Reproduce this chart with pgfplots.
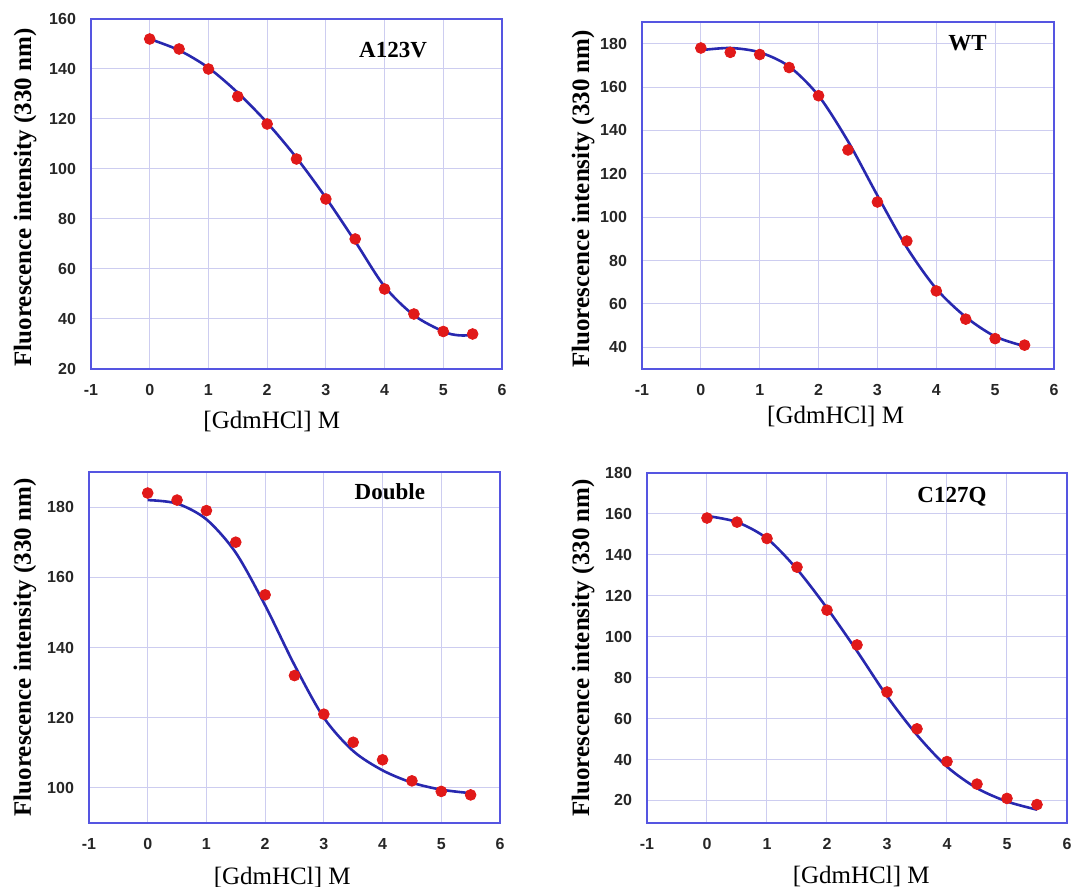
\documentclass[border=0pt]{standalone}
\usepackage{fontspec}
\setmainfont{Liberation Serif}
\newfontfamily\ticksans{Liberation Sans}
\usepackage{pgfplots}
\pgfplotsset{compat=1.18}

\definecolor{boxblue}{RGB}{85,85,225}
\definecolor{gridblue}{RGB}{205,205,240}
\definecolor{fitblue}{RGB}{40,40,175}
\definecolor{dotred}{RGB}{225,25,25}

\pgfplotsset{
  panel/.style={
    scale only axis, anchor=north west,
    xmin=-1, xmax=6, xtick={-1,0,...,6},
    grid=major, major grid style={gridblue, line width=0.5pt},
    axis line style={boxblue, line width=1.4pt},
    major tick length=0pt,
    tick label style={font=\ticksans\bfseries\fontsize{8}{9}\selectfont, text=black!85},
    /pgf/number format/assume math mode=true,
    xticklabel style={yshift=-4pt},
    yticklabel style={xshift=-4pt},
    ylabel={\bfseries Fluorescence intensity (330 nm)},
    xlabel={[GdmHCl] M},
    label style={font=\fontsize{12.5}{14}\selectfont},
  },
  fit/.style={fitblue, line width=1.3pt, smooth, no marks},
  pts/.style={only marks, mark=*, mark size=2.7pt, dotred, mark options={draw=dotred, fill=dotred}},
}
\tikzset{tag/.style={font=\bfseries\fontsize{11.5}{13}\selectfont}}

\begin{document}
\begin{tikzpicture}
\path[use as bounding box] (0,0) rectangle (536.5pt,-443.5pt);

% A123V
\begin{axis}[panel, at={(45.5pt,-9.5pt)}, width=205.5pt, height=175pt,
  ymin=20, ymax=160, ytick={20,40,...,160},
  xlabel style={at={(axis description cs:0.44,-0.15)}, anchor=center},
  ylabel style={at={(axis description cs:-0.16,0.49)}, anchor=center}]
\addplot[fit] coordinates {(0,152) (0.5,147.5) (1,140.5) (1.5,130.5) (2,118.5) (2.5,104.5) (3,88.5) (3.5,71) (4,53) (4.5,41.5) (5,35) (5.25,33.5) (5.5,33.5)};
\addplot[pts] coordinates {(0,152) (0.5,148) (1,140) (1.5,129) (2,118) (2.5,104) (3,88) (3.5,72) (4,52) (4.5,42) (5,35) (5.5,34)};
\node[tag] at (axis description cs:0.735,0.911) {A123V};
\end{axis}

% WT
\begin{axis}[panel, at={(321pt,-11pt)}, width=206pt, height=173.5pt,
  ymin=30, ymax=190, ytick={40,60,...,180},
  xlabel style={at={(axis description cs:0.47,-0.138)}, anchor=center},
  ylabel style={at={(axis description cs:-0.143,0.49)}, anchor=center}]
\addplot[fit] coordinates {(0,177) (0.5,178) (1,176) (1.5,169.5) (2,156) (2.5,135) (3,110) (3.5,86) (4,67) (4.5,54) (5,45) (5.5,40.5)};
\addplot[pts] coordinates {(0,178) (0.5,176) (1,175) (1.5,169) (2,156) (2.5,131) (3,107) (3.5,89) (4,66) (4.5,53) (5,44) (5.5,41)};
\node[tag] at (axis description cs:0.79,0.94) {WT};
\end{axis}

% Double
\begin{axis}[panel, at={(44.5pt,-236pt)}, width=205.5pt, height=175.5pt,
  ymin=90, ymax=190, ytick={100,120,...,180},
  xlabel style={at={(axis description cs:0.47,-0.154)}, anchor=center},
  ylabel style={at={(axis description cs:-0.156,0.5)}, anchor=center}]
\addplot[fit] coordinates {(0,182) (0.5,181) (1,176.5) (1.5,167) (2,152) (2.5,135) (3,120) (3.5,110.5) (4,105) (4.5,101.5) (5,99.5) (5.5,98.5)};
\addplot[pts] coordinates {(0,184) (0.5,182) (1,179) (1.5,170) (2,155) (2.5,132) (3,121) (3.5,113) (4,108) (4.5,102) (5,99) (5.5,98)};
\node[tag] at (axis description cs:0.732,0.943) {Double};
\end{axis}

% C127Q
\begin{axis}[panel, at={(323.5pt,-236.5pt)}, width=210pt, height=175pt,
  ymin=9, ymax=180, ytick={20,40,...,180},
  xlabel style={at={(axis description cs:0.51,-0.154)}, anchor=center},
  ylabel style={at={(axis description cs:-0.152,0.5)}, anchor=center}]
\addplot[fit] coordinates {(0,159) (0.5,156) (1,148) (1.5,133) (2,114) (2.5,93) (3,71) (3.5,52) (4,36.5) (4.5,26) (5,19.5) (5.5,15.5)};
\addplot[pts] coordinates {(0,158) (0.5,156) (1,148) (1.5,134) (2,113) (2.5,96) (3,73) (3.5,55) (4,39) (4.5,28) (5,21) (5.5,18)};
\node[tag] at (axis description cs:0.726,0.931) {C127Q};
\end{axis}
\end{tikzpicture}
\end{document}
